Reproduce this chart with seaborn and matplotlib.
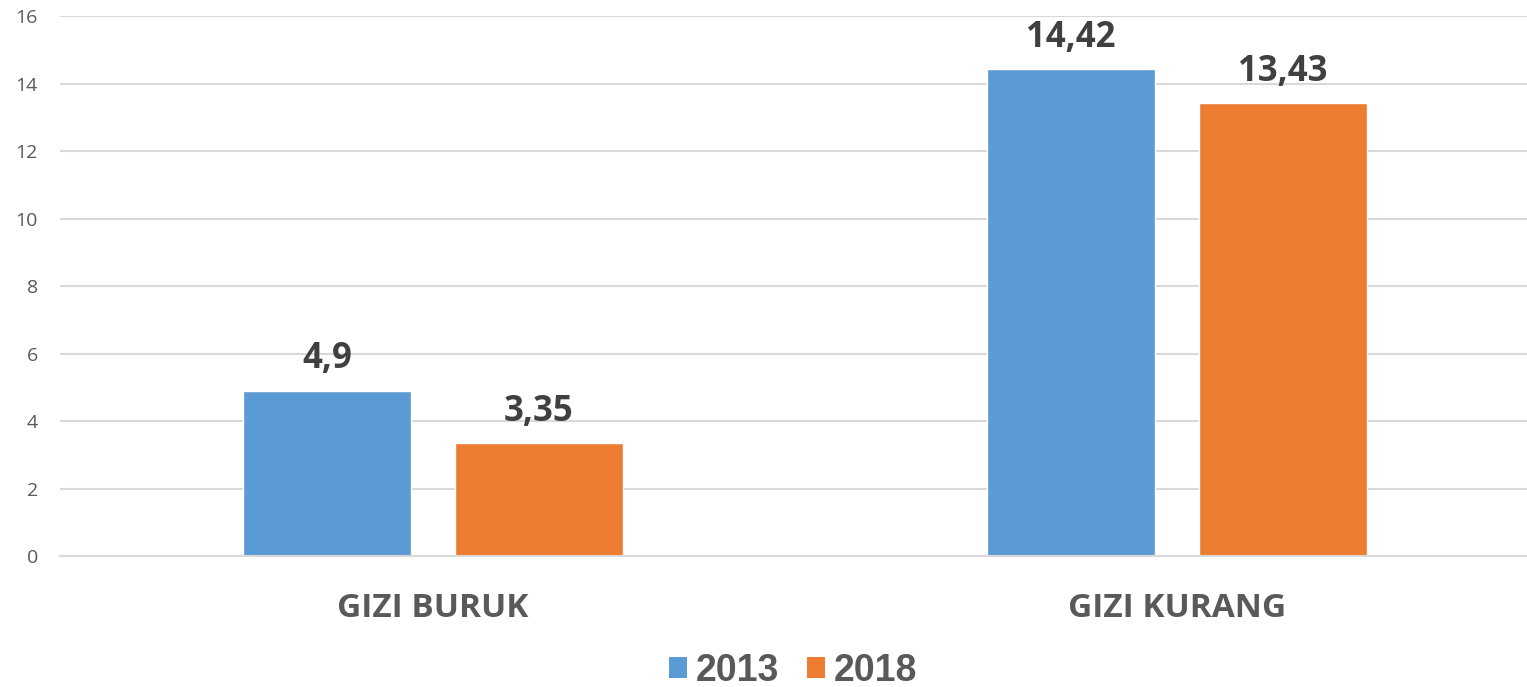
import matplotlib
matplotlib.use("Agg")
import matplotlib.pyplot as plt
import seaborn as sns
import pandas as pd
from matplotlib.patches import Patch

categories = ["GIZI BURUK", "GIZI KURANG"]
years = ["2013", "2018"]
values_2013 = [4.9, 14.42]
values_2018 = [3.35, 13.43]
colors = ["#5B9BD5", "#ED7D31"]
yticks = [0, 2, 4, 6, 8, 10, 12, 14, 16]

df = pd.DataFrame({
    "cat": categories * 2,
    "year": [years[0]] * 2 + [years[1]] * 2,
    "val": values_2013 + values_2018,
})

sns.set_theme(style="white")
plt.rcParams["font.family"] = ["Open Sans", "DejaVu Sans"]

W, H = 1527, 687
fig = plt.figure(figsize=(W / 100, H / 100), dpi=100)
ax = fig.add_axes([60 / W, (H - 556) / H, (W - 60) / W, 540 / H])

sns.barplot(data=df, x="cat", y="val", hue="year", palette=colors,
            width=0.57, gap=0.208, ax=ax, legend=False, saturation=1)

ax.set_ylim(0, 16)
ax.set_xlim(-0.501, 1.470)
ax.set_yticks(yticks)
ax.set_yticklabels([str(v) for v in yticks], fontsize=14, color="#595959")
ax.yaxis.grid(True, color="#D9D9D9", linewidth=1.5)
ax.set_axisbelow(True)
for s in ["top", "right", "left"]:
    ax.spines[s].set_visible(False)
ax.spines["bottom"].set_color("#D9D9D9")
ax.spines["bottom"].set_linewidth(1.5)
ax.tick_params(axis="y", length=0, pad=16)
ax.tick_params(axis="x", length=0, pad=26)
for t in ax.get_xticklabels():
    t.set_fontsize(24)
    t.set_fontweight("bold")
    t.set_color("#595959")
ax.set_xlabel("")
ax.set_ylabel("")

for cont, vals in zip(ax.containers, [values_2013, values_2018]):
    labels = [str(v).replace(".", ",") for v in vals]
    ax.bar_label(cont, labels=labels, padding=9.5, fontsize=25,
                 fontweight="bold", color="#404040")

handles = [Patch(facecolor=c, edgecolor="none") for c in colors]
fig.legend(handles, years, loc="center", bbox_to_anchor=(793 / W, (H - 671) / H),
           ncol=2, frameon=False, prop={"family": "Liberation Sans", "weight": "bold", "size": 27},
           labelcolor="#595959", handlelength=0.48, handleheight=0.48,
           handletextpad=0.24, columnspacing=0.72, borderaxespad=0, borderpad=0)

fig.savefig("out.png", dpi=100)
